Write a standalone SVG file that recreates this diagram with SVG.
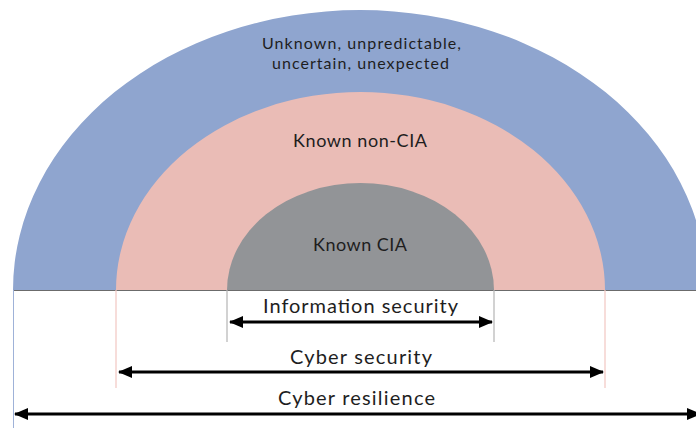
<svg xmlns="http://www.w3.org/2000/svg" width="696" height="428" viewBox="0 0 696 428">
  <style>
    .lbl { font-family: Lato, "Open Sans", "Liberation Sans", sans-serif; font-size: 18px; fill: #1e1e1e; text-anchor: middle; }
    .two { font-size: 16px; }
    .rng { font-size: 20px; }
    .arrow { stroke: #000; stroke-width: 3; fill: none; }
  </style>
  <defs>
    <marker id="head" viewBox="0 0 14 12" refX="13" refY="6" markerWidth="14" markerHeight="12" markerUnits="userSpaceOnUse" orient="auto-start-reverse">
      <path d="M0,0 L14,6 L0,12 Z" fill="#000"/>
    </marker>
  </defs>
  <rect width="696" height="428" fill="#fff"/>

  <!-- outer band: unknown threats -->
  <g id="unknown">
    <path d="M13,290 A347,280 0 0 1 707,290 Z" fill="#8fa5cf"/>
    <text class="lbl two" x="361.5" y="49" textLength="199" lengthAdjust="spacing">Unknown, unpredictable,</text>
    <text class="lbl two" x="360.5" y="69" textLength="177" lengthAdjust="spacing">uncertain, unexpected</text>
  </g>

  <!-- middle band: known non-CIA -->
  <g id="known-non-cia">
    <path d="M116,290 A244.5,198 0 0 1 605,290 Z" fill="#eabcb6"/>
    <text class="lbl" x="360" y="147" textLength="134" lengthAdjust="spacing">Known non-CIA</text>
  </g>

  <!-- core: known CIA -->
  <g id="known-cia">
    <path d="M227,290 A133.5,107 0 0 1 494,290 Z" fill="#929497"/>
    <text class="lbl" x="360" y="251" textLength="94" lengthAdjust="spacing">Known CIA</text>
  </g>

  <!-- scope guides and range arrows -->
  <g id="connectors">
    <line x1="13" y1="290.5" x2="696" y2="290.5" stroke="#6b6b6b" stroke-width="1"/>
    <line x1="13.5" y1="290" x2="13.5" y2="428" stroke="#9fb2d8" stroke-width="1"/>
    <line x1="116" y1="290" x2="116" y2="388" stroke="#f2c6c2" stroke-width="1.2"/>
    <line x1="605" y1="290" x2="605" y2="388" stroke="#f2c6c2" stroke-width="1.2"/>
    <line x1="227" y1="290" x2="227" y2="342" stroke="#b4b4b4" stroke-width="1.2"/>
    <line x1="494" y1="290" x2="494" y2="342" stroke="#b4b4b4" stroke-width="1.2"/>

    <line class="arrow" x1="230" y1="322" x2="492" y2="322" marker-start="url(#head)" marker-end="url(#head)" stroke-width="2.5"/>
    <line class="arrow" x1="119" y1="372" x2="603" y2="372" marker-start="url(#head)" marker-end="url(#head)"/>
    <line class="arrow" x1="15" y1="414" x2="700" y2="414" marker-start="url(#head)" marker-end="url(#head)"/>
  </g>

  <g id="ranges">
    <text class="lbl rng" x="360.5" y="312.5" textLength="195" lengthAdjust="spacing">Information security</text>
    <text class="lbl rng" x="361" y="364" textLength="142" lengthAdjust="spacing">Cyber security</text>
    <text class="lbl rng" x="356.5" y="405" textLength="157" lengthAdjust="spacing">Cyber resilience</text>
  </g>
</svg>
